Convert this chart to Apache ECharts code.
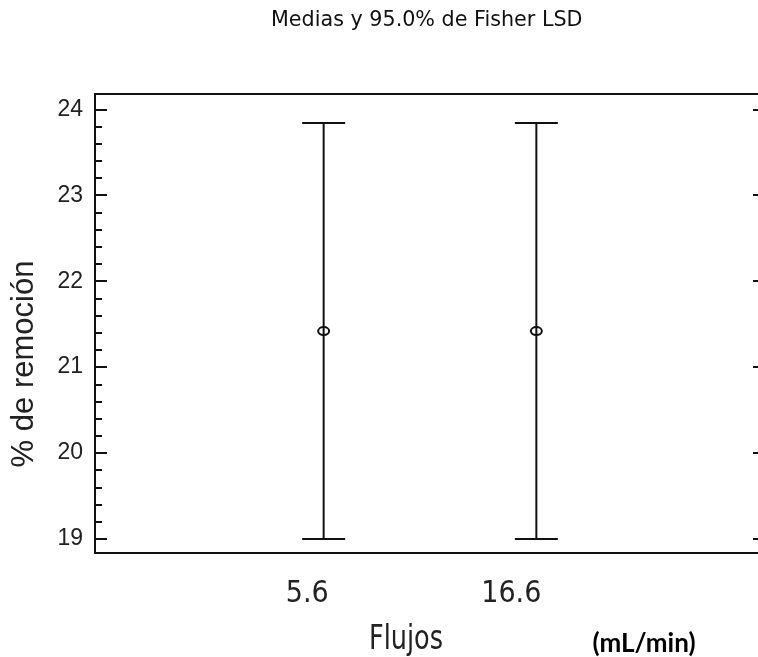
<!DOCTYPE html>
<html>
<head>
<meta charset="utf-8">
<script src="https://cdn.jsdelivr.net/npm/echarts@6/dist/echarts.min.js"></script>
<style>
  html, body { margin: 0; padding: 0; background: #fff; overflow: hidden; }
  #chart { width: 765px; height: 657px; }
</style>
</head>
<body>
<div id="chart"></div>
<script>
// Flow rates (mL/min) and the mean removal with its 95% Fisher LSD interval
const flujos = ['5.6', '16.6'];
const medias = [21.42, 21.42];
const lsdInferior = [19.0, 19.0];
const lsdSuperior = [23.84, 23.84];

// Y axis ticks
const yTicks = [19, 20, 21, 22, 23, 24];
const yMinorTicks = [19.2, 19.4, 19.6, 19.8, 20.2, 20.4, 20.6, 20.8,
                     21.2, 21.4, 21.6, 21.8, 22.2, 22.4, 22.6, 22.8,
                     23.2, 23.4, 23.6, 23.8];

const narrow = "'Liberation Sans Narrow', 'DejaVu Sans Condensed', sans-serif";
const ink = '#111';

const puntos = flujos.map((f, i) => [i + 1, medias[i], lsdInferior[i], lsdSuperior[i]]);
const posiciones = flujos.map((f, i) => i + 1);

const chart = echarts.init(document.getElementById('chart'), null, { renderer: 'canvas' });

const rect = { left: 95, top: 94, right: 0, bottom: 104, outerBoundsMode: 'none' };
const yRange = { type: 'value', min: 18.837, max: 24.178, splitLine: { show: false } };
const xRange = { type: 'value', min: -0.075, max: 3.075, splitLine: { show: false } };

chart.setOption({
  animation: false,
  backgroundColor: '#fff',
  title: {
    text: 'Medias y 95.0% de Fisher LSD',
    left: 266, top: 5,
    textStyle: { fontFamily: "'DejaVu Sans', sans-serif", fontSize: 20.7, fontWeight: 'normal', color: ink }
  },
  grid: [
    Object.assign({ show: true, borderColor: ink, borderWidth: 2, backgroundColor: '#fff' }, rect),
    Object.assign({ show: false }, rect)
  ],
  xAxis: [
    Object.assign({}, xRange, {
      gridIndex: 0,
      axisLine: { show: true, onZero: false, lineStyle: { color: ink, width: 2 } },
      axisTick: { show: false },
      axisLabel: {
        customValues: posiciones,
        formatter: v => flujos[Math.round(v) - 1] || '',
        align: 'right',
        padding: [0, -5, 0, 0],
        margin: 26,
        fontFamily: narrow, fontSize: 30, color: '#222'
      }
    }),
    Object.assign({}, xRange, { gridIndex: 1, show: false })
  ],
  yAxis: [
    Object.assign({}, yRange, {
      gridIndex: 0, position: 'left',
      axisLine: { show: true, onZero: false, lineStyle: { color: ink, width: 2 } },
      axisTick: { show: true, inside: true, length: 12, customValues: yTicks, lineStyle: { color: ink, width: 2 } },
      axisLabel: { customValues: yTicks, margin: 12, fontFamily: "'Liberation Sans', Arial, sans-serif", fontSize: 23, color: '#222' }
    }),
    Object.assign({}, yRange, {
      gridIndex: 0, position: 'right',
      axisLine: { show: true, onZero: false, lineStyle: { color: ink, width: 2 } },
      axisTick: { show: true, inside: true, length: 12, customValues: yTicks, lineStyle: { color: ink, width: 2 } },
      axisLabel: { show: false }
    }),
    Object.assign({}, yRange, {
      gridIndex: 1, position: 'left',
      axisLine: { show: false, onZero: false },
      axisTick: { show: true, inside: true, length: 7, customValues: yMinorTicks, lineStyle: { color: ink, width: 2 } },
      axisLabel: { show: false }
    })
  ],
  series: [{
    type: 'custom',
    xAxisIndex: 0, yAxisIndex: 0,
    data: puntos,
    renderItem: function (params, api) {
      const x = api.value(0);
      const pMed = api.coord([x, api.value(1)]);
      const pLo = api.coord([x, api.value(2)]);
      const pHi = api.coord([x, api.value(3)]);
      const cap = 21.5;
      const style = { stroke: ink, lineWidth: 2 };
      return {
        type: 'group',
        children: [
          { type: 'line', shape: { x1: pLo[0], y1: pLo[1], x2: pHi[0], y2: pHi[1] }, style: style },
          { type: 'line', shape: { x1: pHi[0] - cap, y1: pHi[1], x2: pHi[0] + cap, y2: pHi[1] }, style: style },
          { type: 'line', shape: { x1: pLo[0] - cap, y1: pLo[1], x2: pLo[0] + cap, y2: pLo[1] }, style: style },
          { type: 'ellipse', shape: { cx: pMed[0], cy: pMed[1], rx: 5.5, ry: 4 }, style: { stroke: ink, lineWidth: 2, fill: 'none' } }
        ]
      };
    }
  }],
  graphic: [
    {
      type: 'text', x: 24, y: 364, rotation: Math.PI / 2,
      style: { text: '% de remoción', fontFamily: "'Liberation Sans', Arial, sans-serif", fontSize: 31, fill: '#222', align: 'center', verticalAlign: 'middle' }
    },
    {
      type: 'text', x: 406, y: 640, scaleX: 0.86,
      style: { text: 'Flujos', fontFamily: narrow, fontSize: 33, fill: '#222', align: 'center', verticalAlign: 'middle' }
    },
    {
      type: 'text', x: 644, y: 644,
      style: { text: '(mL/min)', fontFamily: "Lato, 'Open Sans', sans-serif", fontSize: 26, fontWeight: 'bold', fill: '#000', align: 'center', verticalAlign: 'middle' }
    }
  ]
});
</script>
</body>
</html>
